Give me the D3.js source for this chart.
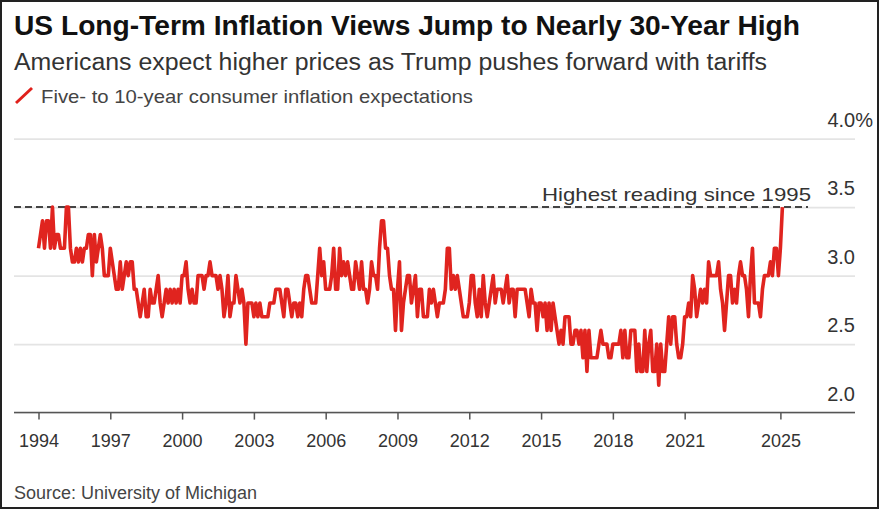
<!DOCTYPE html>
<html lang="en">

<head>
  <meta charset="utf-8">
  <title>US Long-Term Inflation Views</title>
  <script src="https://cdn.jsdelivr.net/npm/d3@7/dist/d3.min.js"></script>
  <style>
    html, body { margin: 0; padding: 0; background: #fff; }
    svg { display: block; font-family: "Liberation Sans", Arial, sans-serif; }
    .tick text { font-family: "Liberation Sans", Arial, sans-serif; }
  </style>
</head>

<body>
  <svg id="chart" width="879" height="510"></svg>

  <script>
    // monthly readings, one row per year, starting January 1994
    var startYear = 1994;
    var expectations = [
      3.2, 3.3, 3.4, 3.2, 3.4, 3.4, 3.2, 3.5, 3.2, 3.3, 3.3, 3.2,
      3.2, 3.2, 3.5, 3.5, 3.2, 3.1, 3.1, 3.2, 3.1, 3.2, 3.1, 3.2,
      3.2, 3.3, 3.3, 3.0, 3.3, 3.1, 3.2, 3.3, 3.2, 3.0, 3.0, 3.0,
      3.2, 3.1, 3.0, 2.9, 2.9, 3.1, 2.9, 3.0, 3.1, 3.0, 3.1, 3.1,
      2.9, 2.9, 2.8, 2.7, 2.8, 2.9, 2.7, 2.7, 2.9, 2.8, 2.8, 2.9,
      3.0, 2.8, 2.7, 2.8, 2.9, 2.8, 2.9, 2.8, 2.9, 2.8, 2.9, 2.8,
      3.0, 3.0, 3.1, 2.9, 2.8, 2.9, 2.8, 2.8, 3.0, 3.0, 3.0, 2.9,
      3.0, 3.0, 3.1, 3.0, 3.0, 3.0, 2.9, 3.0, 2.9, 2.7, 2.8, 3.0,
      2.7, 2.8, 2.8, 3.0, 2.9, 2.8, 2.9, 2.8, 2.5, 2.8, 2.8, 2.8,
      2.7, 2.8, 2.7, 2.8, 2.7, 2.7, 2.7, 2.7, 2.8, 2.8, 2.8, 2.9,
      2.9, 2.9, 2.8, 2.7, 2.9, 2.9, 2.8, 2.7, 2.8, 2.8, 2.7, 2.8,
      2.7, 2.9, 3.0, 3.0, 2.9, 2.8, 2.8, 2.8, 3.0, 3.2, 3.0, 3.1,
      2.9, 2.9, 2.9, 3.0, 3.2, 2.9, 2.9, 3.2, 3.0, 3.1, 3.0, 3.1,
      3.0, 2.9, 2.9, 3.1, 3.0, 2.9, 3.1, 2.9, 2.9, 2.8, 2.9, 3.1,
      3.0, 3.0, 2.9, 3.2, 3.4, 3.4, 3.2, 3.2, 3.0, 2.9, 2.9, 2.6,
      2.9, 3.1, 2.6, 2.8, 2.9, 3.0, 3.0, 2.8, 2.9, 3.0, 2.7, 2.9,
      2.9, 2.7, 2.7, 2.7, 2.9, 2.8, 2.9, 2.8, 2.7, 2.8, 2.8, 2.8,
      2.9, 3.2, 3.2, 2.9, 3.0, 2.9, 3.0, 2.9, 2.8, 2.7, 2.7, 2.7,
      2.8, 3.0, 3.0, 2.8, 2.7, 2.9, 2.7, 3.0, 2.8, 2.7, 2.8, 2.9,
      3.0, 2.8, 2.9, 2.9, 2.9, 2.8, 2.9, 3.0, 2.8, 2.9, 2.9, 2.7,
      2.9, 2.9, 2.9, 2.9, 2.9, 2.8, 2.7, 2.9, 2.8, 2.8, 2.6, 2.8,
      2.8, 2.7, 2.8, 2.6, 2.8, 2.6, 2.8, 2.7, 2.6, 2.5, 2.6, 2.5,
      2.7, 2.7, 2.7, 2.5, 2.5, 2.6, 2.6, 2.5, 2.6, 2.4, 2.6, 2.3,
      2.6, 2.4, 2.4, 2.4, 2.4, 2.5, 2.6, 2.5, 2.5, 2.5, 2.4, 2.4,
      2.5, 2.5, 2.5, 2.5, 2.6, 2.4, 2.6, 2.4, 2.4, 2.6, 2.6, 2.6,
      2.3, 2.5, 2.3, 2.3, 2.6, 2.3, 2.5, 2.6, 2.3, 2.3, 2.5, 2.2,
      2.5, 2.3, 2.3, 2.5, 2.7, 2.5, 2.7, 2.7, 2.5, 2.4, 2.4, 2.5,
      2.7, 2.7, 2.8, 2.7, 3.0, 2.9, 2.7, 2.8, 2.9, 2.8, 2.9, 2.8,
      3.1, 3.0, 3.0, 3.0, 3.0, 3.1, 2.9, 2.8, 2.6, 2.8, 3.0, 3.0,
      2.8, 2.9, 2.8, 3.0, 3.1, 3.0, 3.0, 2.9, 2.7, 3.0, 3.2, 2.8,
      2.8, 2.8, 2.7, 2.9, 3.0, 3.0, 3.0, 3.1, 3.0, 3.2, 3.2, 3.0,
      3.2, 3.5
    ];
    var yearTicks = [1994, 1997, 2000, 2003, 2006, 2009, 2012, 2015, 2018, 2021, 2025];
    var valueTicks = [2.0, 2.5, 3.0, 3.5, 4.0];
    var highMark = 3.5;

    var titleText = "US Long-Term Inflation Views Jump to Nearly 30-Year High";
    var subtitleText = "Americans expect higher prices as Trump pushes forward with tariffs";
    var legendText = "Five- to 10-year consumer inflation expectations";
    var noteText = "Highest reading since 1995";
    var sourceText = "Source: University of Michigan";

    var svg = d3.select("#chart");
    var margin = { left: 14, right: 855, top: 138.6, bottom: 412.6 };

    var x = d3.scaleLinear().domain([1994, 2025]).range([38.5, 780.4]);
    var y = d3.scaleLinear().domain([2, 4]).range([margin.bottom, margin.top]);

    // text stretched to the measured width (the original face runs wider)
    function fitted(sel, width) {
      return sel.attr("textLength", width).attr("lengthAdjust", "spacingAndGlyphs");
    }

    // outer frame of the screenshot
    svg.append("rect")
      .attr("x", 1).attr("y", 1).attr("width", 877).attr("height", 507)
      .attr("fill", "#fff").attr("stroke", "#222").attr("stroke-width", 2);

    // titles
    svg.append("text").attr("x", 14).attr("y", 35)
      .attr("font-size", 28).attr("font-weight", 700).attr("fill", "#111")
      .text(titleText).call(fitted, 786);
    svg.append("text").attr("x", 14).attr("y", 69.5)
      .attr("font-size", 23.5).attr("fill", "#333")
      .text(subtitleText).call(fitted, 753);

    // legend
    svg.append("line")
      .attr("x1", 16).attr("y1", 103).attr("x2", 32).attr("y2", 88)
      .attr("stroke", "#e0201b").attr("stroke-width", 3);
    svg.append("text").attr("x", 41).attr("y", 102.7)
      .attr("font-size", 18.5).attr("fill", "#444")
      .text(legendText).call(fitted, 432);

    // gridlines + y labels sit above each line
    var yAxis = svg.append("g")
      .attr("transform", "translate(" + margin.left + ",0)")
      .call(d3.axisRight(y)
        .tickValues(valueTicks)
        .tickSize(margin.right - margin.left)
        .tickFormat(function (d) { return d === 4 ? "4.0%" : d3.format(".1f")(d); }));
    yAxis.select(".domain").remove();
    yAxis.selectAll(".tick line").attr("stroke", "#e4e4e4").attr("stroke-width", 1.6);
    yAxis.selectAll(".tick text")
      .attr("x", margin.right - margin.left)
      .attr("dy", "-12.5")
      .attr("text-anchor", "end")
      .attr("font-size", 20)
      .attr("fill", "#333");
    // the percent sign hangs past the right edge
    yAxis.selectAll(".tick text")
      .filter(function (d) { return d === 4; })
      .attr("x", margin.right - margin.left + 18);

    // x axis
    var xAxis = svg.append("g")
      .attr("transform", "translate(0," + margin.bottom + ")")
      .call(d3.axisBottom(x)
        .tickValues(yearTicks)
        .tickSize(7)
        .tickPadding(15)
        .tickFormat(d3.format("d")));
    xAxis.select(".domain")
      .attr("d", "M" + margin.left + ",0H" + margin.right)
      .attr("stroke", "#555").attr("stroke-width", 1.5);
    xAxis.selectAll(".tick line").attr("stroke", "#555").attr("stroke-width", 1.5);
    xAxis.selectAll(".tick text").attr("font-size", 18).attr("fill", "#333");

    // dashed reference line
    svg.append("line")
      .attr("x1", margin.left).attr("x2", 808)
      .attr("y1", y(highMark)).attr("y2", y(highMark))
      .attr("stroke", "#444").attr("stroke-width", 2)
      .attr("stroke-dasharray", "7,4");
    svg.append("text").attr("x", 542).attr("y", 200.5)
      .attr("font-size", 18.5).attr("fill", "#333")
      .text(noteText).call(fitted, 269);

    // the series
    var line = d3.line()
      .x(function (d, i) { return x(startYear + i / 12); })
      .y(function (d) { return y(d); });
    svg.append("path")
      .attr("d", line(expectations))
      .attr("fill", "none")
      .attr("stroke", "#e0241f")
      .attr("stroke-width", 3.6)
      .attr("stroke-linejoin", "round");

    svg.append("text").attr("x", 14).attr("y", 498.5)
      .attr("font-size", 17.5).attr("fill", "#444")
      .text(sourceText).call(fitted, 243);
  </script>
</body>

</html>
